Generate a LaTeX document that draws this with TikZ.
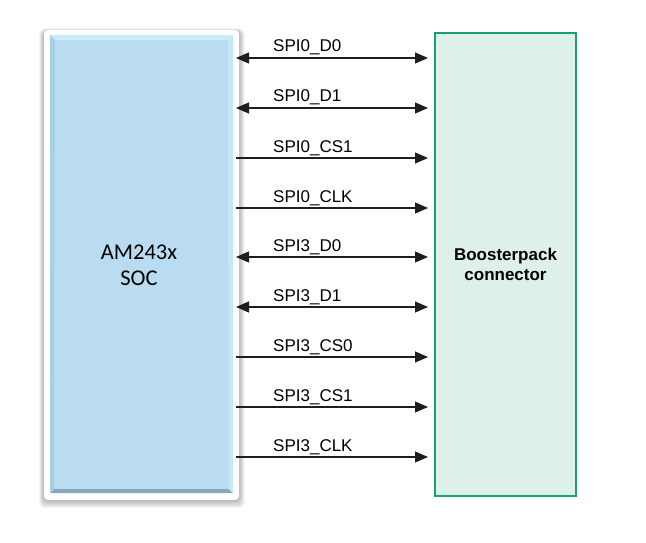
\documentclass[tikz,border=0pt]{standalone}
\usepackage{fontspec}
\setmainfont{Liberation Sans}
\newfontfamily\calib{Carlito}
\usetikzlibrary{arrows.meta}
\definecolor{socblue}{HTML}{B9DCF0}
\definecolor{soctop}{HTML}{CBEBFA}
\definecolor{socbot}{HTML}{86A8BA}
\definecolor{socside}{HTML}{A9CFE4}
\definecolor{bpfill}{HTML}{DDF1E8}
\definecolor{bpline}{HTML}{17A077}
\definecolor{wire}{HTML}{1E1E1E}
\tikzset{
  sig/.style={draw=wire, line width=1.1pt},
  uni/.style={sig, -{Triangle[length=13pt,width=11pt]}},
  bi/.style={sig, {Triangle[length=13pt,width=11pt]}-{Triangle[length=13pt,width=11pt]}},
  siglabel/.style={anchor=base west, inner sep=0pt, font=\fontsize{17}{19}\selectfont},
}
\begin{document}
\begin{tikzpicture}[x=1pt,y=-1pt]
\useasboundingbox (0,0) rectangle (646,543);
% shadow of the SOC frame
\foreach \k in {1,...,8}{
  \fill[black, opacity=0.04, rounded corners=6pt] (44-\k*0.6,30-\k*0.3+1) rectangle (239+\k*0.7,500+\k*1.0);
}
\fill[white, rounded corners=4pt] (44,30) rectangle (239,500);
% SOC body with bevel
\fill[socblue] (50,35) rectangle (233,493);
\fill[soctop] (50,35) -- (233,35) -- (228,40) -- (55,40) -- cycle;
\fill[socbot] (50,493) -- (233,493) -- (229,489) -- (54,489) -- cycle;
\fill[socside] (50,35) -- (55,40) -- (54,489) -- (50,493) -- cycle;
\fill[soctop!70!socblue] (233,35) -- (228,40) -- (229,489) -- (233,493) -- cycle;
\node[inner sep=0pt, align=center, font=\calib\fontsize{22.5}{26}\selectfont] (soc) at (139,265) {AM243x\\SOC};
% Boosterpack connector
\node[draw=bpline, fill=bpfill, line width=2pt, minimum width=141pt, minimum height=463pt, inner sep=0pt,
      font=\bfseries\fontsize{17}{20}\selectfont, align=center] (bp) at (505.5,264.5) {Boosterpack\\connector};
% signals
\foreach \i/\y/\s/\lab in {1/58/bi/SPI0\_D0, 2/108/bi/SPI0\_D1, 3/158/uni/SPI0\_CS1, 4/208/uni/SPI0\_CLK,
                           5/257/bi/SPI3\_D0, 6/307/bi/SPI3\_D1, 7/357/uni/SPI3\_CS0, 8/407/uni/SPI3\_CS1, 9/457/uni/SPI3\_CLK}{
  \coordinate (l\i) at (236,\y);
  \coordinate (r\i) at (428,\y);
  \draw[\s] (l\i) -- (r\i);
  \node[siglabel] (t\i) at (273,\y-6) {\lab};
}
\end{tikzpicture}
\end{document}
